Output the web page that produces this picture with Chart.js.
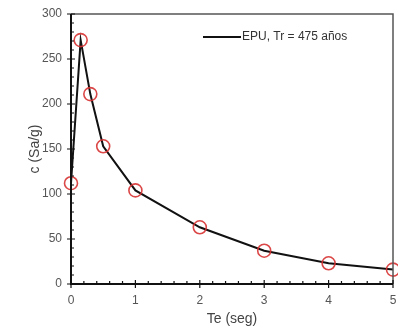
<!DOCTYPE html>
<html><head><meta charset="utf-8">
<script src="https://cdn.jsdelivr.net/npm/chart.js@4/dist/chart.umd.min.js"></script>
<style>html,body{margin:0;padding:0;background:#fff}#wrap{width:398px;height:332px}</style>
</head><body><div id="wrap"><canvas id="c" width="398" height="332"></canvas></div>
<script>
const periods = [0, 0.15, 0.3, 0.5, 1, 2, 3, 4, 5];
const saValues = [112, 271, 211, 153, 104, 63, 37, 23, 16];
const seriesLabel = 'EPU, Tr = 475 años';
const xTitle = 'Te (seg)';
const yTitle = 'c (Sa/g)';

const framePlugin = {
  id: 'frame',
  afterDatasetsDraw(chart) {
    const {ctx, chartArea: a, scales: {x, y}} = chart;
    ctx.save();
    ctx.strokeStyle = '#555';
    ctx.lineWidth = 1.5;
    ctx.beginPath();
    ctx.moveTo(a.left, a.top); ctx.lineTo(a.right, a.top); ctx.lineTo(a.right, a.bottom);
    ctx.stroke();
    ctx.strokeStyle = '#111';
    ctx.lineWidth = 2;
    ctx.beginPath();
    ctx.moveTo(a.left, a.top); ctx.lineTo(a.left, a.bottom); ctx.lineTo(a.right, a.bottom);
    ctx.stroke();
    ctx.lineWidth = 1.2;
    ctx.beginPath();
    for (let v = 0; v <= 300; v += 10) {
      const py = y.getPixelForValue(v);
      if (v % 50 === 0) { ctx.moveTo(a.left - 4, py); ctx.lineTo(a.left + 4, py); }
      else { ctx.moveTo(a.left, py); ctx.lineTo(a.left + 3, py); }
    }
    for (let i = 0; i <= 25; i++) {
      const v = i * 0.2;
      const px = x.getPixelForValue(v);
      if (i % 5 === 0) { ctx.moveTo(px, a.bottom - 4); ctx.lineTo(px, a.bottom + 4); }
      else { ctx.moveTo(px, a.bottom); ctx.lineTo(px, a.bottom - 3); }
    }
    ctx.stroke();
    // legend
    const lx = 203, ly = 37;
    ctx.strokeStyle = '#111';
    ctx.lineWidth = 2;
    ctx.beginPath(); ctx.moveTo(lx, ly); ctx.lineTo(lx + 38, ly); ctx.stroke();
    ctx.fillStyle = '#333';
    ctx.font = '12px "Liberation Sans", Arial, sans-serif';
    ctx.textBaseline = 'middle';
    ctx.fillText(seriesLabel, lx + 39, ly);
    ctx.restore();
  }
};

new Chart(document.getElementById('c'), {
  type: 'line',
  data: {
    datasets: [{
      label: seriesLabel,
      data: periods.map((p, i) => ({x: p, y: saValues[i]})),
      borderColor: '#111',
      borderWidth: 2,
      tension: 0,
      pointStyle: 'circle',
      pointRadius: 6.5,
      pointBorderWidth: 1.6,
      pointBorderColor: 'rgba(215,50,50,0.9)',
      pointBackgroundColor: 'rgba(0,0,0,0)',
      clip: false
    }]
  },
  options: {
    responsive: false,
    animation: false,
    layout: {autoPadding: false, padding: {top: 14, right: 5, left: 0, bottom: 0}},
    plugins: {legend: {display: false}, tooltip: {enabled: false}},
    scales: {
      x: {
        type: 'linear', min: 0, max: 5,
        ticks: {stepSize: 1, color: '#555', padding: 5, font: {size: 12, family: '"Liberation Sans", Arial'}},
        grid: {drawOnChartArea: false, color: 'rgba(0,0,0,0)', tickLength: 4},
        border: {display: false},
        title: {display: true, text: xTitle, color: '#444', font: {size: 14, family: '"Liberation Sans", Arial'}, padding: {top: 0, bottom: 4}},
        afterFit(s) { s.height = 48; s.paddingRight = 0; s.paddingLeft = 0; }
      },
      y: {
        min: 0, max: 300,
        ticks: {stepSize: 50, color: '#555', padding: 5, font: {size: 12, family: '"Liberation Sans", Arial'}},
        grid: {drawOnChartArea: false, color: 'rgba(0,0,0,0)', tickLength: 4},
        border: {display: false},
        title: {display: true, text: yTitle, color: '#444', font: {size: 14, family: '"Liberation Sans", Arial'}, padding: {top: 27, bottom: 0}},
        afterFit(s) { s.width = 71; s.paddingTop = 0; s.paddingBottom = 0; }
      }
    }
  },
  plugins: [framePlugin]
});
</script></body></html>
